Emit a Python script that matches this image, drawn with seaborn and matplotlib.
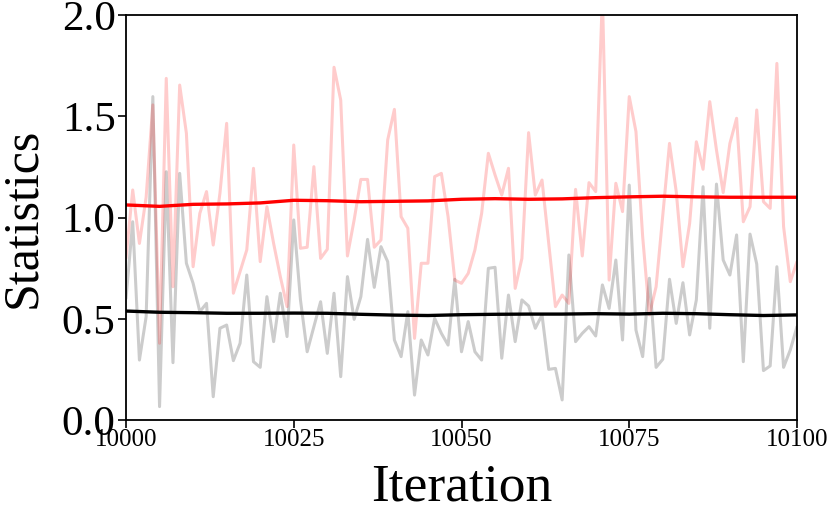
import numpy as np
import pandas as pd
import matplotlib
matplotlib.use("Agg")
import matplotlib.pyplot as plt
import seaborn as sns

iterations = list(range(10000, 10101))

noisy_red = [0.80, 1.136, 0.872, 1.10, 1.556, 0.379, 1.687, 0.658, 1.654, 1.416,
             0.757, 1.02, 1.128, 0.864, 1.12, 1.465, 0.626, 0.733, 0.84, 1.243,
             0.782, 1.053, 0.872, 0.708, 0.56, 1.358, 0.848, 0.853, 1.251, 0.798,
             0.843, 1.742, 1.58, 0.81, 0.988, 1.188, 1.188, 0.853, 0.889, 1.383,
             1.534, 1.004, 0.947, 0.403, 0.774, 0.774, 1.202, 1.218, 1.004, 0.691,
             0.675, 0.724, 0.84, 1.02, 1.317, 1.21, 1.111, 1.243, 0.65, 0.798,
             1.419, 1.111, 1.185, 0.872, 0.56, 0.617, 0.576, 1.139, 0.81, 1.172,
             1.128, 2.10, 0.691, 1.169, 1.029, 1.597, 1.424, 0.905, 0.519, 0.658,
             1.012, 1.366, 1.128, 0.757, 0.971, 1.374, 1.238, 1.572, 1.333, 1.123,
             1.366, 1.49, 0.979, 1.053, 1.531, 1.078, 1.045, 1.761, 0.955, 0.683,
             0.782]

noisy_gray = [0.60, 0.979, 0.296, 0.51, 1.597, 0.066, 1.226, 0.283, 1.218, 0.774,
              0.675, 0.535, 0.576, 0.115, 0.453, 0.469, 0.293, 0.379, 0.716, 0.288,
              0.26, 0.609, 0.387, 0.626, 0.412, 0.988, 0.593, 0.337, 0.461, 0.584,
              0.329, 0.626, 0.214, 0.708, 0.497, 0.609, 0.892, 0.655, 0.856, 0.782,
              0.395, 0.313, 0.535, 0.123, 0.395, 0.321, 0.502, 0.428, 0.37, 0.695,
              0.337, 0.486, 0.337, 0.296, 0.749, 0.754, 0.305, 0.617, 0.387, 0.593,
              0.563, 0.453, 0.519, 0.25, 0.255, 0.099, 0.815, 0.387, 0.428, 0.461,
              0.415, 0.667, 0.551, 0.79, 0.395, 1.16, 0.444, 0.313, 0.70, 0.26,
              0.30, 0.695, 0.477, 0.678, 0.42, 0.593, 1.152, 0.453, 1.165, 0.79,
              0.716, 0.914, 0.288, 0.918, 0.77, 0.244, 0.267, 0.757, 0.26, 0.346,
              0.461]

smooth_iters = list(range(10000, 10101, 5))
smooth_red = [1.062, 1.055, 1.065, 1.067, 1.072, 1.085, 1.083, 1.078, 1.080, 1.082,
              1.090, 1.093, 1.090, 1.092, 1.098, 1.102, 1.105, 1.102, 1.100, 1.100,
              1.100]
smooth_black = [0.538, 0.532, 0.530, 0.527, 0.527, 0.528, 0.527, 0.522, 0.518, 0.516,
                0.520, 0.522, 0.523, 0.523, 0.525, 0.523, 0.527, 0.525, 0.520, 0.516,
                0.519]

x_ticks = [10000, 10025, 10050, 10075, 10100]
y_ticks = [0.0, 0.5, 1.0, 1.5, 2.0]

sns.set_style("ticks")
plt.rcParams['font.family'] = ['Liberation Serif', 'DejaVu Serif']
plt.rcParams['text.color'] = 'black'
plt.rcParams['axes.labelcolor'] = 'black'
plt.rcParams['xtick.color'] = 'black'
plt.rcParams['ytick.color'] = 'black'

noisy = pd.DataFrame({"Iteration": iterations, "red": noisy_red, "gray": noisy_gray})
smooth = pd.DataFrame({"Iteration": smooth_iters, "red": smooth_red, "black": smooth_black})

fig = plt.figure(figsize=(8.31, 5.16), dpi=100)
ax = fig.add_axes([126 / 831, 1 - 420 / 516, (797 - 126) / 831, (420 - 15) / 516])

sns.lineplot(data=noisy, x="Iteration", y="gray", ax=ax, color="black", alpha=0.2, lw=2.2)
sns.lineplot(data=noisy, x="Iteration", y="red", ax=ax, color="red", alpha=0.2, lw=2.2)
sns.lineplot(data=smooth, x="Iteration", y="red", ax=ax, color="red", lw=2.4)
sns.lineplot(data=smooth, x="Iteration", y="black", ax=ax, color="black", lw=2.4)

ax.set_xlim(10000, 10100)
ax.set_ylim(0, 2)
ax.set_xticks(x_ticks)
ax.set_xticklabels([str(t) for t in x_ticks], fontsize=18)
ax.set_yticks(y_ticks)
ax.set_yticklabels([f"{t:.1f}" for t in y_ticks], fontsize=31)
ax.tick_params(axis="both", length=5.5, width=1.2, color="black", labelcolor="black", pad=2)
ax.tick_params(axis="x", pad=1)
ax.set_xlabel("Iteration", fontsize=38.5, labelpad=9, color="black")
ax.set_ylabel("Statistics", fontsize=36, labelpad=11, color="black")
for s in ax.spines.values():
    s.set_visible(True)
    s.set_linewidth(1.3)
    s.set_color("black")

fig.savefig("out.png", dpi=100)
